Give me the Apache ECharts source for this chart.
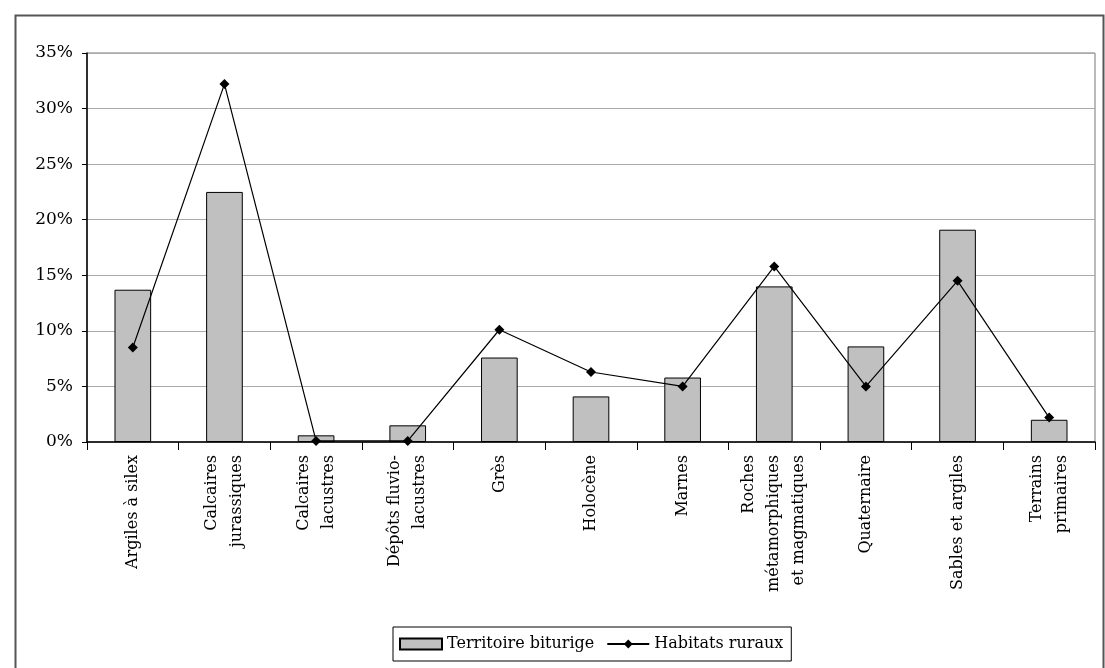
<!DOCTYPE html>
<html>
<head>
<meta charset="utf-8">
<script src="https://cdn.jsdelivr.net/npm/echarts@6/dist/echarts.min.js"></script>
<style>html,body{margin:0;padding:0;background:#fff}#c{width:1105px;height:668px}</style>
</head>
<body>
<div id="c"></div>
<script>
const categories = ["Argiles à silex", "Calcaires\njurassiques", "Calcaires\nlacustres", "Dépôts fluvio-\nlacustres", "Grès", "Holocène", "Marnes", "Roches\nmétamorphiques\net magmatiques", "Quaternaire", "Sables et argiles", "Terrains\nprimaires"];
const territoire = [13.7, 22.5, 0.6, 1.5, 7.6, 4.1, 5.8, 14.0, 8.6, 19.1, 2.0];
const habitats = [8.5, 32.2, 0.1, 0.1, 10.1, 6.3, 5.0, 15.8, 5.0, 14.5, 2.2];
const seriesNames = ["Territoire biturige", "Habitats ruraux"];
const yTicks = [0, 5, 10, 15, 20, 25, 30, 35];

const chart = echarts.init(document.getElementById('c'), null, {renderer: 'canvas'});
const font = 'DejaVu Serif';
chart.setOption({
  animation: false,
  backgroundColor: '#fff',
  textStyle: {fontFamily: font},
  graphic: [{
    type: 'rect', left: 13, top: 13, z: -1,
    shape: {width: 1088, height: 680},
    style: {fill: 'none', stroke: '#555', lineWidth: 2}
  }],
  grid: {left: 87, right: 10, top: 53, bottom: 226, show: true, borderColor: '#777', borderWidth: 1, backgroundColor: 'transparent'},
  legend: {
    data: [
      {name: seriesNames[0], icon: 'rect'},
      {name: seriesNames[1]}
    ],
    left: 393, top: 627,
    width: 420,
    itemWidth: 42, itemHeight: 11, itemGap: 12,
    padding: [9, 8, 9, 6],
    borderColor: '#000', borderWidth: 1,
    textStyle: {fontFamily: font, fontSize: 16, color: '#000'}
  },
  xAxis: {
    type: 'category',
    data: categories,
    axisLine: {lineStyle: {color: '#000', width: 1.5}},
    axisTick: {show: true, alignWithLabel: false, length: 8, lineStyle: {color: '#000'}},
    axisLabel: {rotate: 90, interval: 0, margin: 13, fontFamily: font, fontSize: 16, lineHeight: 25, color: '#000'}
  },
  yAxis: {
    type: 'value', min: 0, max: 35, interval: 5,
    axisLine: {show: true, lineStyle: {color: '#000', width: 1.5}},
    axisTick: {show: true, length: 5, lineStyle: {color: '#000'}},
    splitLine: {lineStyle: {color: '#aaa', width: 1}},
    axisLabel: {fontFamily: font, fontSize: 17, color: '#000', margin: 14,
      customValues: yTicks, formatter: v => v + '%'}
  },
  series: [
    {
      name: seriesNames[0], type: 'bar', data: territoire,
      barWidth: '40%',
      itemStyle: {color: '#c0c0c0', borderColor: '#000', borderWidth: 1}
    },
    {
      name: seriesNames[1], type: 'line', data: habitats,
      symbol: 'diamond', symbolSize: 10,
      lineStyle: {color: '#000', width: 1.2},
      itemStyle: {color: '#000'}
    }
  ]
});
</script>
</body>
</html>
